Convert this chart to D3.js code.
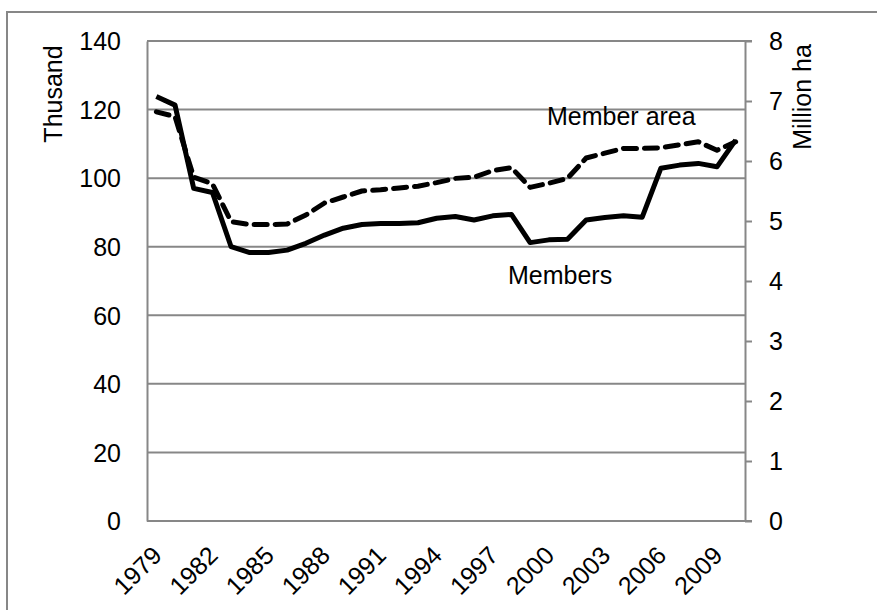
<!DOCTYPE html>
<html><head><meta charset="utf-8">
<script src="https://cdn.jsdelivr.net/npm/d3@7"></script>
<style>
body{margin:0;background:#fff;}
text{font-family:"Liberation Sans",Arial,sans-serif;fill:#000;}
</style></head>
<body><svg id="c" width="877" height="610"></svg>
<script>
const years = d3.range(1979, 2011).map(String);
const members = [123.8,121.3,97.0,95.8,80.0,78.3,78.3,79.0,81.0,83.4,85.4,86.5,86.8,86.8,87.0,88.3,88.8,87.8,89.0,89.4,81.2,82.0,82.2,87.8,88.5,89.0,88.6,102.9,103.8,104.3,103.3,111.1];
const memberArea = [6.82,6.74,5.73,5.62,4.99,4.94,4.94,4.95,5.10,5.30,5.40,5.50,5.52,5.55,5.58,5.64,5.71,5.73,5.84,5.89,5.56,5.63,5.71,6.05,6.13,6.21,6.21,6.22,6.27,6.32,6.18,6.32];
const leftTicks = [0,20,40,60,80,100,120,140];
const rightTicks = [0,1,2,3,4,5,6,7,8];
const xLabels = ["1979","1982","1985","1988","1991","1994","1997","2000","2003","2006","2009"];

const svg = d3.select("#c");
const grey = "#878787";
const L = 147, R = 745, T = 41, B = 521;
const fs = 25;

// outer frame
svg.append("rect").attr("x",7).attr("y",12).attr("width",900).attr("height",700)
  .attr("fill","none").attr("stroke",grey).attr("stroke-width",2);

const x = d3.scaleBand().domain(years).range([L,R]);
const yL = d3.scaleLinear().domain([0,140]).range([B,T]);
const yR = d3.scaleLinear().domain([0,8]).range([B,T]);
const cx = d => x(d) + x.bandwidth()/2;

// gridlines
svg.append("g").selectAll("line").data(leftTicks.filter(v=>v>0)).join("line")
  .attr("x1",L).attr("x2",v=> v===140 ? R+7 : R)
  .attr("y1",v=>yL(v)).attr("y2",v=>yL(v))
  .attr("stroke",grey).attr("stroke-width",2);

// left axis
const gL = svg.append("g").attr("transform",`translate(${L},0)`)
  .call(d3.axisLeft(yL).tickValues(leftTicks).tickSize(0).tickPadding(26));
gL.select(".domain").attr("stroke",grey).attr("stroke-width",2);
gL.selectAll("text").style("font-size",fs+"px").attr("dy","0.35em");

// right axis
const gR = svg.append("g").attr("transform",`translate(${R},0)`)
  .call(d3.axisRight(yR).tickValues(rightTicks).tickSize(7).tickSizeOuter(0).tickPadding(17));
gR.select(".domain").attr("stroke",grey).attr("stroke-width",2);
gR.selectAll("line").attr("stroke",grey).attr("stroke-width",2);
gR.selectAll("text").style("font-size",fs+"px").attr("dy","0.35em");

// bottom axis
const gB = svg.append("g").attr("transform",`translate(0,${B})`)
  .call(d3.axisBottom(x).tickValues(xLabels).tickSize(0).tickSizeOuter(0));
gB.select(".domain").remove();
svg.append("line").attr("x1",L).attr("x2",R+7).attr("y1",B).attr("y2",B)
  .attr("stroke",grey).attr("stroke-width",2);
gB.selectAll("text").style("font-size",fs+"px")
  .attr("text-anchor","end").attr("dy",null).attr("y",0)
  .attr("transform","translate(7,36) rotate(-45)");

// lines
const lineM = d3.line().x((d,i)=>cx(years[i])).y(d=>yL(d));
const lineA = d3.line().x((d,i)=>cx(years[i])).y(d=>yR(d));
svg.append("path").attr("d",lineA(memberArea)).attr("fill","none").attr("stroke","#000")
  .attr("stroke-width",5).attr("stroke-dasharray","13,8").attr("stroke-linecap","round").attr("stroke-linejoin","round");
svg.append("path").attr("d",lineM(members)).attr("fill","none").attr("stroke","#000")
  .attr("stroke-width",5).attr("stroke-linejoin","round");

// labels
svg.append("text").attr("x",547).attr("y",125).style("font-size",fs+"px").text("Member area");
svg.append("text").attr("x",508).attr("y",284).style("font-size",fs+"px").text("Members");
svg.append("text").attr("transform","translate(62,94) rotate(-90)").attr("text-anchor","middle")
  .style("font-size",fs+"px").text("Thusand");
svg.append("text").attr("transform","translate(811,97) rotate(-90)").attr("text-anchor","middle")
  .style("font-size",fs+"px").text("Million ha");
</script></body></html>
